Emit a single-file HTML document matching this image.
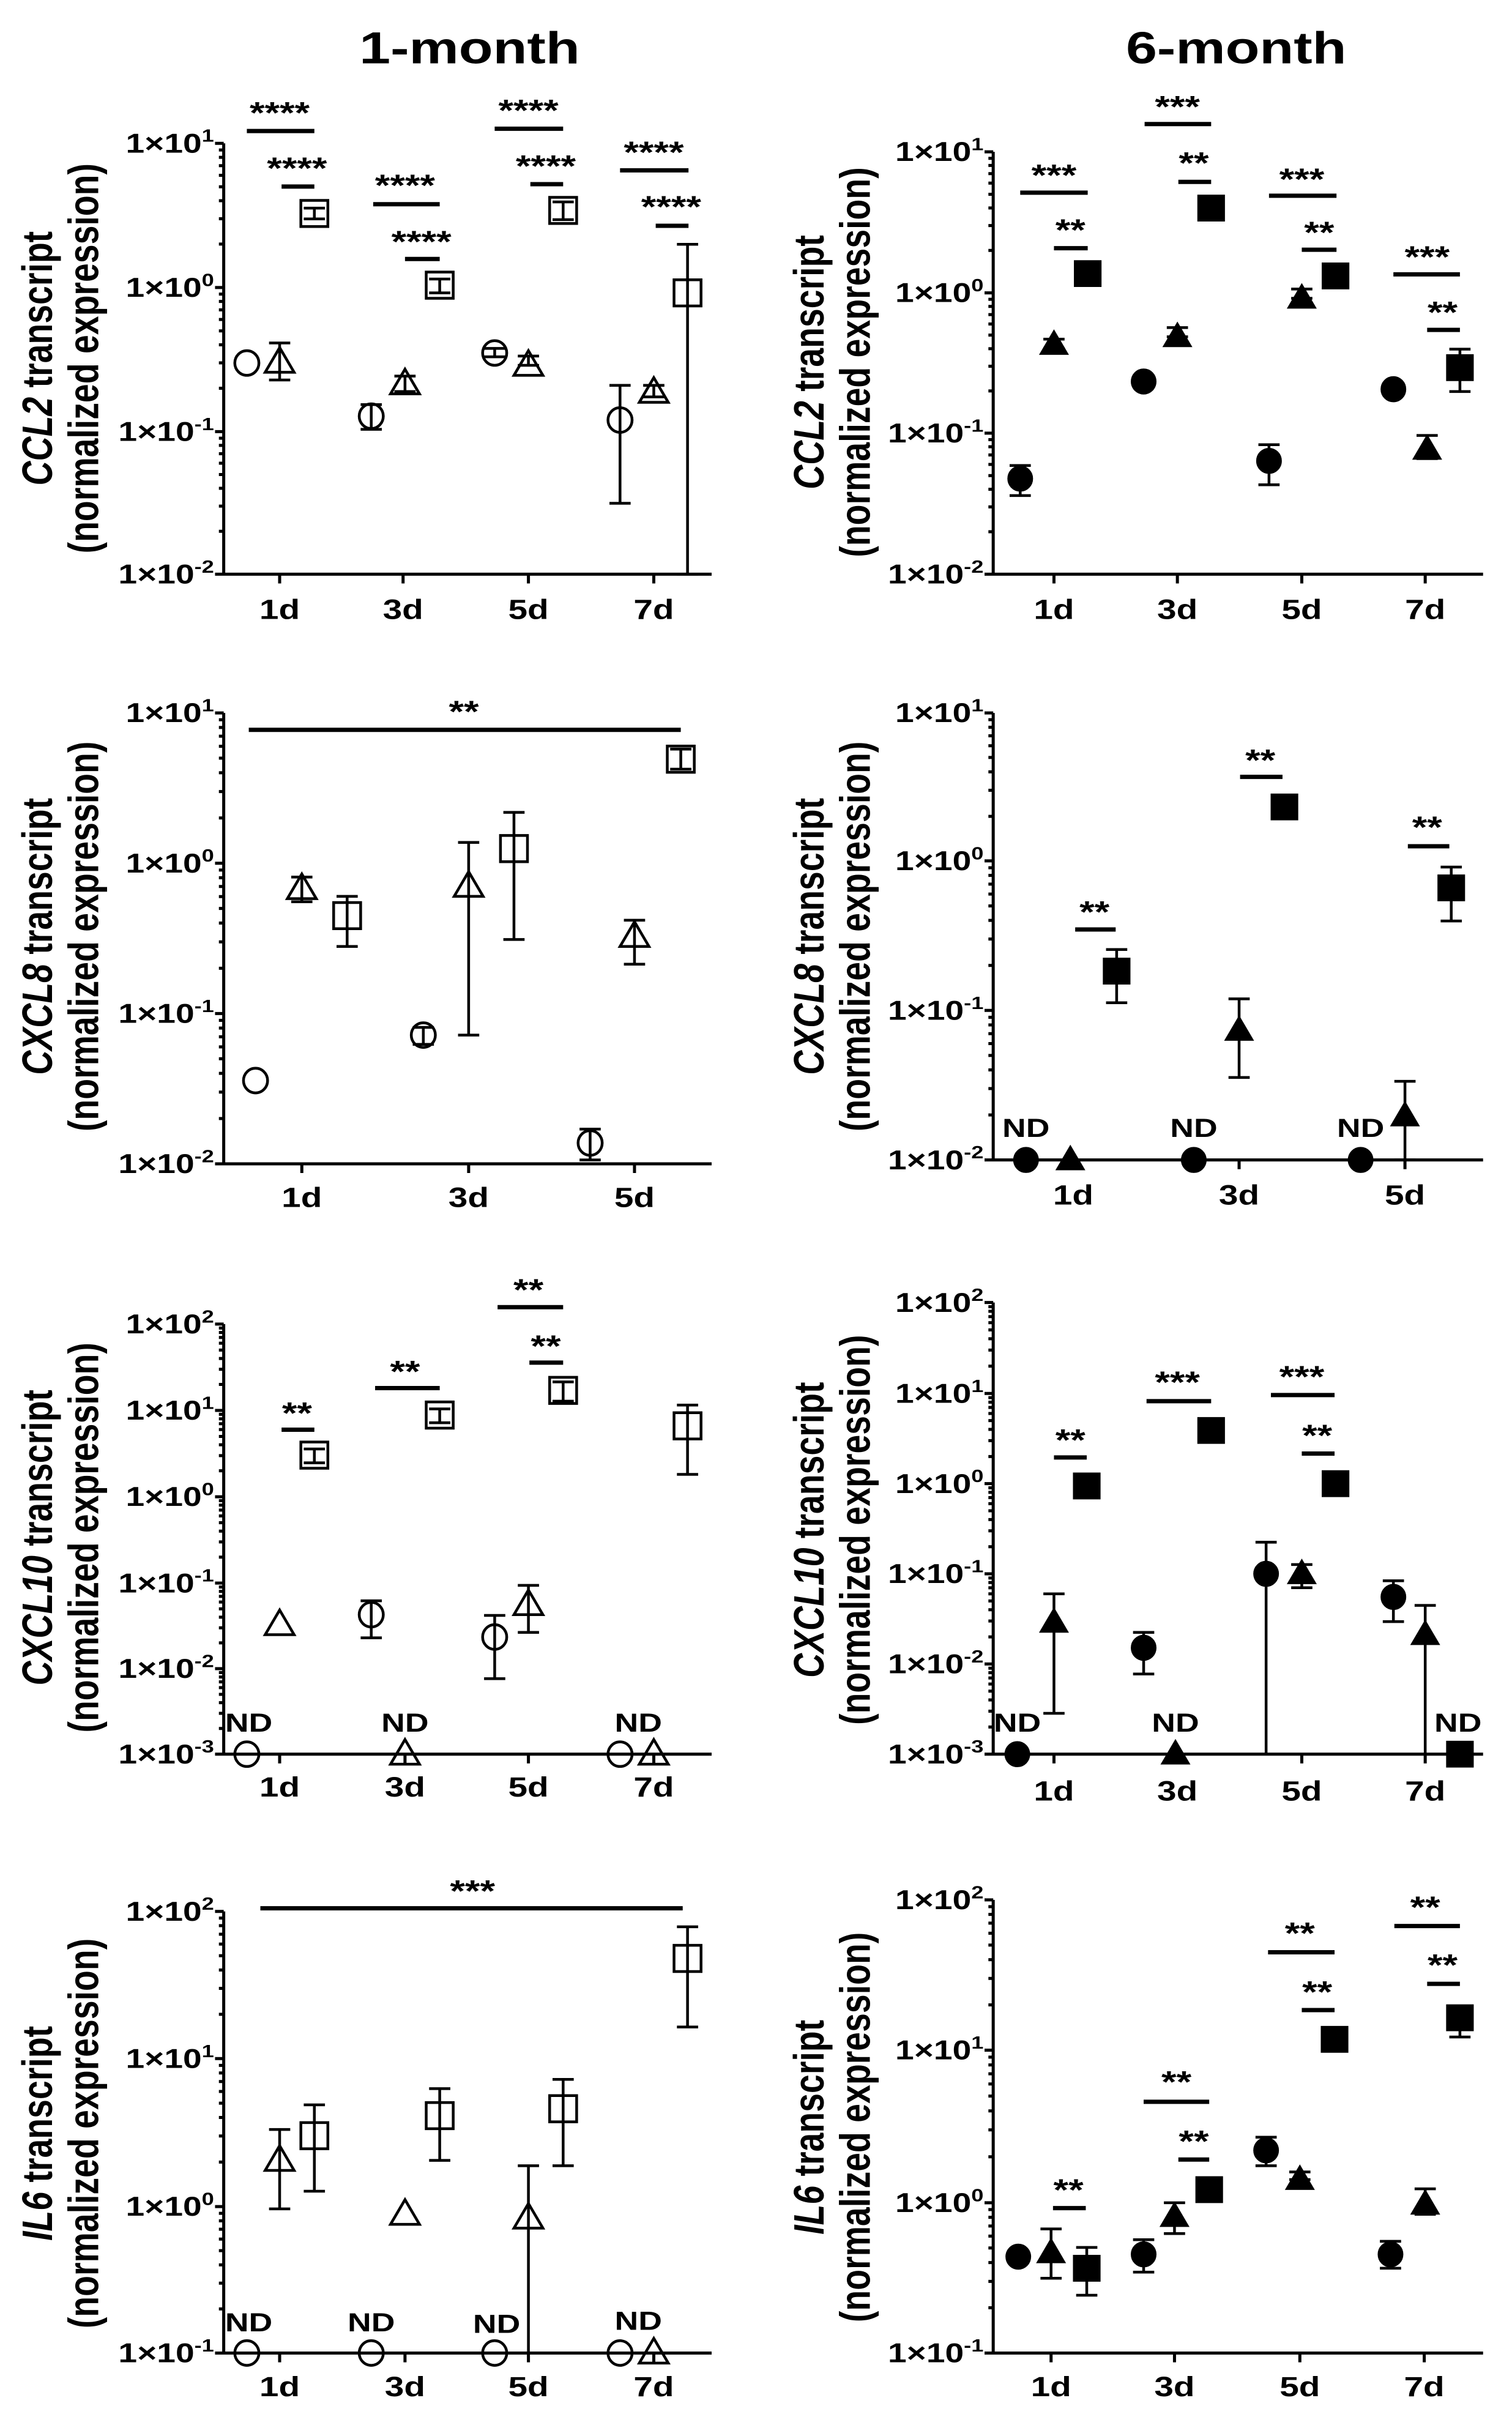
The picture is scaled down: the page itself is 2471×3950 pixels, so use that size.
<!DOCTYPE html>
<html><head><meta charset="utf-8"><style>html,body{margin:0;padding:0;background:#fff}svg{display:block}</style></head>
<body>
<svg id="s" xmlns="http://www.w3.org/2000/svg" width="2471" height="3950" viewBox="0 0 1568 3136" preserveAspectRatio="none" font-family="Liberation Sans, Arial, sans-serif" font-weight="bold">
<g id="geo"></g>
<g fill="#000">
<text x="487" y="82" font-size="58" text-anchor="middle">1-month</text>
<text x="1282" y="82" font-size="58" text-anchor="middle">6-month</text>
</g>
<g font-size="35" text-anchor="end" fill="#000">
<text x="222" y="198">1×10<tspan font-size="23" dy="-14">1</tspan></text>
<text x="222" y="385">1×10<tspan font-size="23" dy="-14">0</tspan></text>
<text x="222" y="572">1×10<tspan font-size="23" dy="-14">-1</tspan></text>
<text x="222" y="757">1×10<tspan font-size="23" dy="-14">-2</tspan></text>
<text x="1020" y="209">1×10<tspan font-size="23" dy="-14">1</tspan></text>
<text x="1020" y="392">1×10<tspan font-size="23" dy="-14">0</tspan></text>
<text x="1020" y="574">1×10<tspan font-size="23" dy="-14">-1</tspan></text>
<text x="1020" y="757">1×10<tspan font-size="23" dy="-14">-2</tspan></text>
<text x="222" y="937">1×10<tspan font-size="23" dy="-14">1</tspan></text>
<text x="222" y="1132">1×10<tspan font-size="23" dy="-14">0</tspan></text>
<text x="222" y="1327">1×10<tspan font-size="23" dy="-14">-1</tspan></text>
<text x="222" y="1522">1×10<tspan font-size="23" dy="-14">-2</tspan></text>
<text x="1020" y="937">1×10<tspan font-size="23" dy="-14">1</tspan></text>
<text x="1020" y="1129">1×10<tspan font-size="23" dy="-14">0</tspan></text>
<text x="1020" y="1323">1×10<tspan font-size="23" dy="-14">-1</tspan></text>
<text x="1020" y="1517">1×10<tspan font-size="23" dy="-14">-2</tspan></text>
<text x="222" y="1730">1×10<tspan font-size="23" dy="-14">2</tspan></text>
<text x="222" y="1842">1×10<tspan font-size="23" dy="-14">1</tspan></text>
<text x="222" y="1954">1×10<tspan font-size="23" dy="-14">0</tspan></text>
<text x="222" y="2066">1×10<tspan font-size="23" dy="-14">-1</tspan></text>
<text x="222" y="2177">1×10<tspan font-size="23" dy="-14">-2</tspan></text>
<text x="222" y="2288">1×10<tspan font-size="23" dy="-14">-3</tspan></text>
<text x="1020" y="1702">1×10<tspan font-size="23" dy="-14">2</tspan></text>
<text x="1020" y="1820">1×10<tspan font-size="23" dy="-14">1</tspan></text>
<text x="1020" y="1937">1×10<tspan font-size="23" dy="-14">0</tspan></text>
<text x="1020" y="2054">1×10<tspan font-size="23" dy="-14">-1</tspan></text>
<text x="1020" y="2171">1×10<tspan font-size="23" dy="-14">-2</tspan></text>
<text x="1020" y="2288">1×10<tspan font-size="23" dy="-14">-3</tspan></text>
<text x="222" y="2492">1×10<tspan font-size="23" dy="-14">2</tspan></text>
<text x="222" y="2683">1×10<tspan font-size="23" dy="-14">1</tspan></text>
<text x="222" y="2875">1×10<tspan font-size="23" dy="-14">0</tspan></text>
<text x="222" y="3065">1×10<tspan font-size="23" dy="-14">-1</tspan></text>
<text x="1020" y="2477">1×10<tspan font-size="23" dy="-14">2</tspan></text>
<text x="1020" y="2672">1×10<tspan font-size="23" dy="-14">1</tspan></text>
<text x="1020" y="2870">1×10<tspan font-size="23" dy="-14">0</tspan></text>
<text x="1020" y="3065">1×10<tspan font-size="23" dy="-14">-1</tspan></text>
</g>
<g font-size="36" text-anchor="middle" fill="#000">
<text x="290" y="803">1d</text><text x="418" y="803">3d</text><text x="548" y="803">5d</text><text x="678" y="803">7d</text>
<text x="1093" y="803">1d</text><text x="1221" y="803">3d</text><text x="1350" y="803">5d</text><text x="1478" y="803">7d</text>
<text x="313" y="1566">1d</text><text x="486" y="1566">3d</text><text x="658" y="1566">5d</text>
<text x="1113" y="1563">1d</text><text x="1285" y="1563">3d</text><text x="1457" y="1563">5d</text>
<text x="290" y="2331">1d</text><text x="420" y="2331">3d</text><text x="548" y="2331">5d</text><text x="678" y="2331">7d</text>
<text x="1093" y="2336">1d</text><text x="1221" y="2336">3d</text><text x="1350" y="2336">5d</text><text x="1478" y="2336">7d</text>
<text x="290" y="3109">1d</text><text x="420" y="3109">3d</text><text x="548" y="3109">5d</text><text x="678" y="3109">7d</text>
<text x="1090" y="3109">1d</text><text x="1218" y="3109">3d</text><text x="1348" y="3109">5d</text><text x="1477" y="3109">7d</text>
</g>
<g font-size="34" text-anchor="middle" fill="#000">
<text x="1064" y="1475">ND</text><text x="1238" y="1475">ND</text><text x="1411" y="1475">ND</text>
<text x="258" y="2247">ND</text><text x="420" y="2247">ND</text><text x="662" y="2247">ND</text>
<text x="1055" y="2247">ND</text><text x="1219" y="2247">ND</text><text x="1512" y="2247">ND</text>
<text x="258" y="3025">ND</text><text x="385" y="3025">ND</text><text x="515" y="3027">ND</text><text x="662" y="3023">ND</text>
</g>
<g font-size="40" text-anchor="middle" fill="#000">
<text x="290" y="160">****</text><text x="308" y="232">****</text><text x="420" y="254">****</text><text x="437" y="327">****</text>
<text x="548" y="157">****</text><text x="566" y="229">****</text><text x="678" y="211">****</text><text x="696" y="282">****</text>
<text x="1093" y="241">***</text><text x="1110" y="312">**</text><text x="1221" y="152">***</text><text x="1238" y="225">**</text>
<text x="1350" y="246">***</text><text x="1368" y="315">**</text><text x="1480" y="347">***</text><text x="1496" y="419">**</text>
<text x="481" y="937">**</text>
<text x="1135" y="1197">**</text><text x="1307" y="1000">**</text><text x="1480" y="1087">**</text>
<text x="308" y="1847">**</text><text x="420" y="1793">**</text><text x="548" y="1687">**</text><text x="566" y="1760">**</text>
<text x="1110" y="1882">**</text><text x="1221" y="1807">***</text><text x="1350" y="1800">***</text><text x="1366" y="1876">**</text>
<text x="490" y="2467">***</text>
<text x="1108" y="2855">**</text><text x="1220" y="2715">**</text><text x="1238" y="2792">**</text><text x="1348" y="2522">**</text>
<text x="1366" y="2598">**</text><text x="1478" y="2488">**</text><text x="1496" y="2563">**</text>
</g>
<g font-size="44" text-anchor="middle" fill="#000">
<text transform="translate(54,465) rotate(-90)"><tspan font-style="italic">CCL2</tspan> transcript</text>
<text transform="translate(102,465) rotate(-90)">(normalized expression)</text>
<text transform="translate(854,470) rotate(-90)"><tspan font-style="italic">CCL2</tspan> transcript</text>
<text transform="translate(902,470) rotate(-90)">(normalized expression)</text>
<text transform="translate(54,1215) rotate(-90)"><tspan font-style="italic">CXCL8</tspan> transcript</text>
<text transform="translate(102,1215) rotate(-90)">(normalized expression)</text>
<text transform="translate(854,1215) rotate(-90)"><tspan font-style="italic">CXCL8</tspan> transcript</text>
<text transform="translate(902,1215) rotate(-90)">(normalized expression)</text>
<text transform="translate(54,1995) rotate(-90)"><tspan font-style="italic">CXCL10</tspan> transcript</text>
<text transform="translate(102,1995) rotate(-90)">(normalized expression)</text>
<text transform="translate(854,1985) rotate(-90)"><tspan font-style="italic">CXCL10</tspan> transcript</text>
<text transform="translate(902,1985) rotate(-90)">(normalized expression)</text>
<text transform="translate(54,2768) rotate(-90)"><tspan font-style="italic">IL6</tspan> transcript</text>
<text transform="translate(102,2768) rotate(-90)">(normalized expression)</text>
<text transform="translate(854,2760) rotate(-90)"><tspan font-style="italic">IL6</tspan> transcript</text>
<text transform="translate(902,2760) rotate(-90)">(normalized expression)</text>
</g>
</svg>
<script>
(function(){
var NS="http://www.w3.org/2000/svg",g=document.getElementById("geo");
function el(t,a){var e=document.createElementNS(NS,t);for(var k in a)e.setAttribute(k,a[k]);e.setAttribute("vector-effect","non-scaling-stroke");g.appendChild(e);return e;}
function path(d,w){el("path",{d:d,stroke:"#000","stroke-width":w,fill:"none"});}
var P=[
{ax:232,dec:[186,373,560,745],end:738,xt:[290,418,548,678],f:0,
pts:[["c",256,471],["t",290,470,445,493],["s",326,277,270,284],["c",385,540,525,557],["t",420,498,488,508],["s",456,370,362,380],["c",513,458,452,463],["t",548,474,462,474],["s",584,273,262,285],["c",643,545,500,653],["t",678,509,500,515],["s",713,380,317,745]],
ln:[[256,326,170],[292,326,242],[387,456,265],[420,456,336],[513,584,167],[550,584,239],[643,714,221],[680,714,293]]},
{ax:1030,dec:[197,380,562,745],end:1538,xt:[1093,1221,1350,1478],f:1,
pts:[["c",1058,621,604,643],["t",1093,447,440,452],["s",1128,355],["c",1186,495],["t",1221,437,425,437],["s",1256,270],["c",1316,598,577,629],["t",1350,387,375,387],["s",1385,358],["c",1445,505],["t",1480,583,565,595],["s",1514,477,453,508]],
ln:[[1058,1128,250],[1093,1128,322],[1187,1256,161],[1222,1256,236],[1316,1386,254],[1350,1386,324],[1445,1514,356],[1480,1514,428]]},
{ax:232,dec:[925,1120,1315,1510],end:738,xt:[313,486,658],f:0,
pts:[["c",265,1402],["t",313,1153,1138,1170],["s",360,1188,1163,1228],["c",439,1343,1333,1355],["t",486,1150,1093,1343],["s",533,1101,1054,1219],["c",612,1483,1465,1505],["t",658,1215,1194,1251],["s",706,985,972,998]],
ln:[[258,706,947]]},
{ax:1030,dec:[925,1117,1311,1505],end:1538,xt:[1113,1285,1457],f:1,
pts:[["c",1064,1505],["t",1110,1505],["s",1158,1260,1232,1301],["c",1238,1505],["t",1285,1337,1296,1398],["s",1332,1047],["c",1411,1505],["t",1457,1448,1403,1505],["s",1505,1152,1125,1195]],
ln:[[1115,1157,1206],[1286,1330,1008],[1460,1503,1098]]},
{ax:232,dec:[1718,1830,1942,2054,2165,2276],end:738,xt:[290,420,548,678],f:0,
pts:[["c",256,2276],["t",290,2108],["s",326,1888,1880,1898],["c",385,2095,2077,2125],["t",420,2276],["s",456,1836,1828,1846],["c",513,2124,2096,2178],["t",548,2082,2057,2118],["s",584,1804,1793,1818],["c",643,2276],["t",678,2276],["s",713,1850,1823,1913]],
ln:[[292,326,1855],[389,456,1801],[516,584,1696],[549,584,1768]]},
{ax:1030,dec:[1690,1808,1925,2042,2159,2276],end:1538,xt:[1093,1221,1350,1478],f:1,
pts:[["c",1055,2276],["t",1093,2105,2068,2223],["s",1127,1928],["c",1186,2138,2118,2172],["t",1219,2276],["s",1256,1856],["c",1313,2042,2001,2276],["t",1350,2042,2030,2060],["s",1385,1925],["c",1445,2072,2051,2104],["t",1478,2121,2083,2276],["s",1514,2276]],
ln:[[1093,1127,1891],[1189,1256,1818],[1318,1384,1810],[1350,1384,1886]]},
{ax:232,dec:[2480,2671,2863,3053],end:738,xt:[290,420,548,678],f:0,
pts:[["c",256,3053],["t",290,2803,2763,2866],["s",326,2771,2731,2843],["c",385,3053],["t",420,2873],["s",456,2745,2710,2803],["c",513,3053],["t",548,2878,2810,3053],["s",584,2736,2698,2810],["c",643,3053],["t",678,3053],["s",713,2541,2500,2630]],
ln:[[270,708,2476]]},
{ax:1030,dec:[2465,2660,2858,3053],end:1538,xt:[1090,1218,1348,1477],f:1,
pts:[["c",1056,2928],["t",1090,2923,2892,2956],["s",1127,2943,2916,2978],["c",1186,2925,2906,2948],["t",1218,2876,2858,2898],["s",1254,2841],["c",1313,2790,2773,2810],["t",1348,2828,2818,2828],["s",1384,2646],["c",1442,2925,2908,2943],["t",1478,2860,2840,2873],["s",1514,2618,2608,2643]],
ln:[[1092,1126,2865],[1186,1254,2727],[1222,1254,2802],[1315,1384,2533],[1350,1384,2608],[1446,1514,2499],[1480,1514,2574]]}
];
P.forEach(function(p){
 var d=p.dec,top=d[0],bot=d[d.length-1],ax=p.ax,s="";
 s+="M"+ax+" "+top+"V"+bot+"M"+ax+" "+bot+"H"+p.end;
 for(var i=0;i<d.length;i++){s+="M"+(ax-9)+" "+d[i]+"H"+ax;
  if(i<d.length-1){var h=d[i+1]-d[i];for(var m=2;m<=9;m++){var y=d[i+1]-Math.log10(m)*h;s+="M"+(ax-5)+" "+y.toFixed(1)+"H"+ax;}}}
 p.xt.forEach(function(x){s+="M"+x+" "+bot+"V"+(bot+12);});
 path(s,5);
 p.ln.forEach(function(l){path("M"+l[0]+" "+l[2]+"H"+l[1],7);});
 p.pts.forEach(function(q){
  var t=q[0],x=q[1],y=q[2],fill=p.f?"#000":"none";
  if(t=="c")el("ellipse",{cx:x,cy:y,rx:p.f?13:12.5,ry:p.f?16.5:16,stroke:"#000","stroke-width":p.f?1:4.5,fill:fill});
  else if(t=="s")el("rect",{x:x-14,y:y-17,width:28,height:34,stroke:"#000","stroke-width":p.f?1:4.5,fill:fill});
  else el("path",{d:"M"+x+" "+(y-19)+"L"+(x+15)+" "+(y+13)+"L"+(x-15)+" "+(y+13)+"Z",stroke:"#000","stroke-width":p.f?1:4.5,fill:fill,"stroke-linejoin":"miter"});
  if(q.length>3){var a=q[3],b=q[4];path("M"+x+" "+a+"V"+b+"M"+(x-11)+" "+a+"H"+(x+11)+"M"+(x-11)+" "+b+"H"+(x+11),4.5);}
 });
});
})();
</script>
</body></html>
